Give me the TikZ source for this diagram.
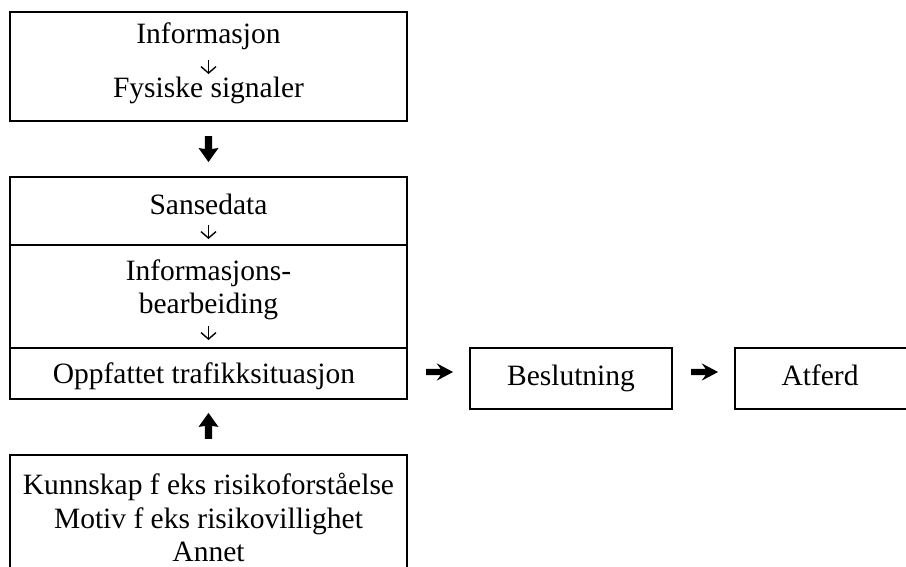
\documentclass[tikz,border=0pt]{standalone}
\usepackage{fontspec}
\setmainfont{Liberation Serif}
\usetikzlibrary{arrows.meta}
\begin{document}
\begin{tikzpicture}[x=1pt,y=-1pt,
  box/.style={draw,line width=2.2pt,inner sep=0pt,rectangle},
  txt/.style={inner sep=0pt,anchor=base,font=\fontsize{29.5}{34}\selectfont},
  stepline/.style={line width=1.4pt,-{Straight Barb[length=6.5pt,width=15pt,line width=1.4pt]}},
  pics/heavyarrow/.style={code={
    \fill (-13,3.6) -- (0,3.6) -- (-1,10) -- (13,0) -- (-1,-10) -- (0,-3.6) -- (-13,-3.6) -- cycle;
  }},
  pics/wedgearrow/.style={code={
    \fill (-13.5,3.2) -- (1,3.2) -- (-3,8.7) -- (13.5,0) -- (-3,-8.7) -- (1,-3.2) -- (-13.5,-3.2) -- cycle;
  }}]
\useasboundingbox (0,0) rectangle (906,566);
\clip (0,0) rectangle (906,566);

% signal box
\node[box,minimum width=397pt,minimum height=109pt] (signal) at (208.5,66.5) {};
\node[txt] (info) at (208.5,43) {Informasjon};
\node[txt] (fys) at (208.5,97) {Fysiske signaler};
\coordinate (a1s) at (208.5,60);
\coordinate (a1e) at (208.5,74);
\draw[stepline] (a1s) -- (a1e);

% perception stack
\node[box,minimum width=397pt,minimum height=68pt] (sanse) at (208.5,211) {};
\node[box,minimum width=397pt,minimum height=103pt] (bearb) at (208.5,296.5) {};
\node[box,minimum width=397pt,minimum height=51pt] (oppf) at (208.5,373.5) {};
\node[txt] (t1) at (208.5,214) {Sansedata};
\coordinate (a2s) at (208.5,225);
\coordinate (a2e) at (208.5,239);
\draw[stepline] (a2s) -- (a2e);
\node[txt] (t2) at (208.5,280) {Informasjons-};
\node[txt] (t3) at (208.5,313) {bearbeiding};
\coordinate (a3s) at (208.5,326);
\coordinate (a3e) at (208.5,340);
\draw[stepline] (a3s) -- (a3e);
\node[txt] (t4) at (204,383) {Oppfattet trafikksituasjon};

% background factors
\node[box,minimum width=397pt,minimum height=150pt] (bak) at (208.5,530) {};
\node[txt] (k1) at (208.5,494) {Kunnskap f eks risikoforståelse};
\node[txt] (k2) at (208.5,528) {Motiv f eks risikovillighet};
\node[txt] (k3) at (208.5,561) {Annet};

% decision and behaviour
\node[box,minimum width=202pt,minimum height=61pt] (besl) at (571,378.5) {};
\node[txt] (b1) at (571,385) {Beslutning};
\node[box,minimum width=210pt,minimum height=61pt] (atf) at (840,378.5) {};
\node[txt] (b2) at (820,385) {Atferd};

% heavy arrows between the boxes
\path (signal.south) -- (sanse.north) pic[pos=0.5,rotate=-90] {heavyarrow};
\path (bak.north) -- (oppf.south) pic[pos=0.52,rotate=90] {heavyarrow};
\path (oppf.east) ++(31.5,-1.5) pic {wedgearrow};
\path (besl.east) ++(31.5,-6.5) pic {wedgearrow};
\end{tikzpicture}
\end{document}
